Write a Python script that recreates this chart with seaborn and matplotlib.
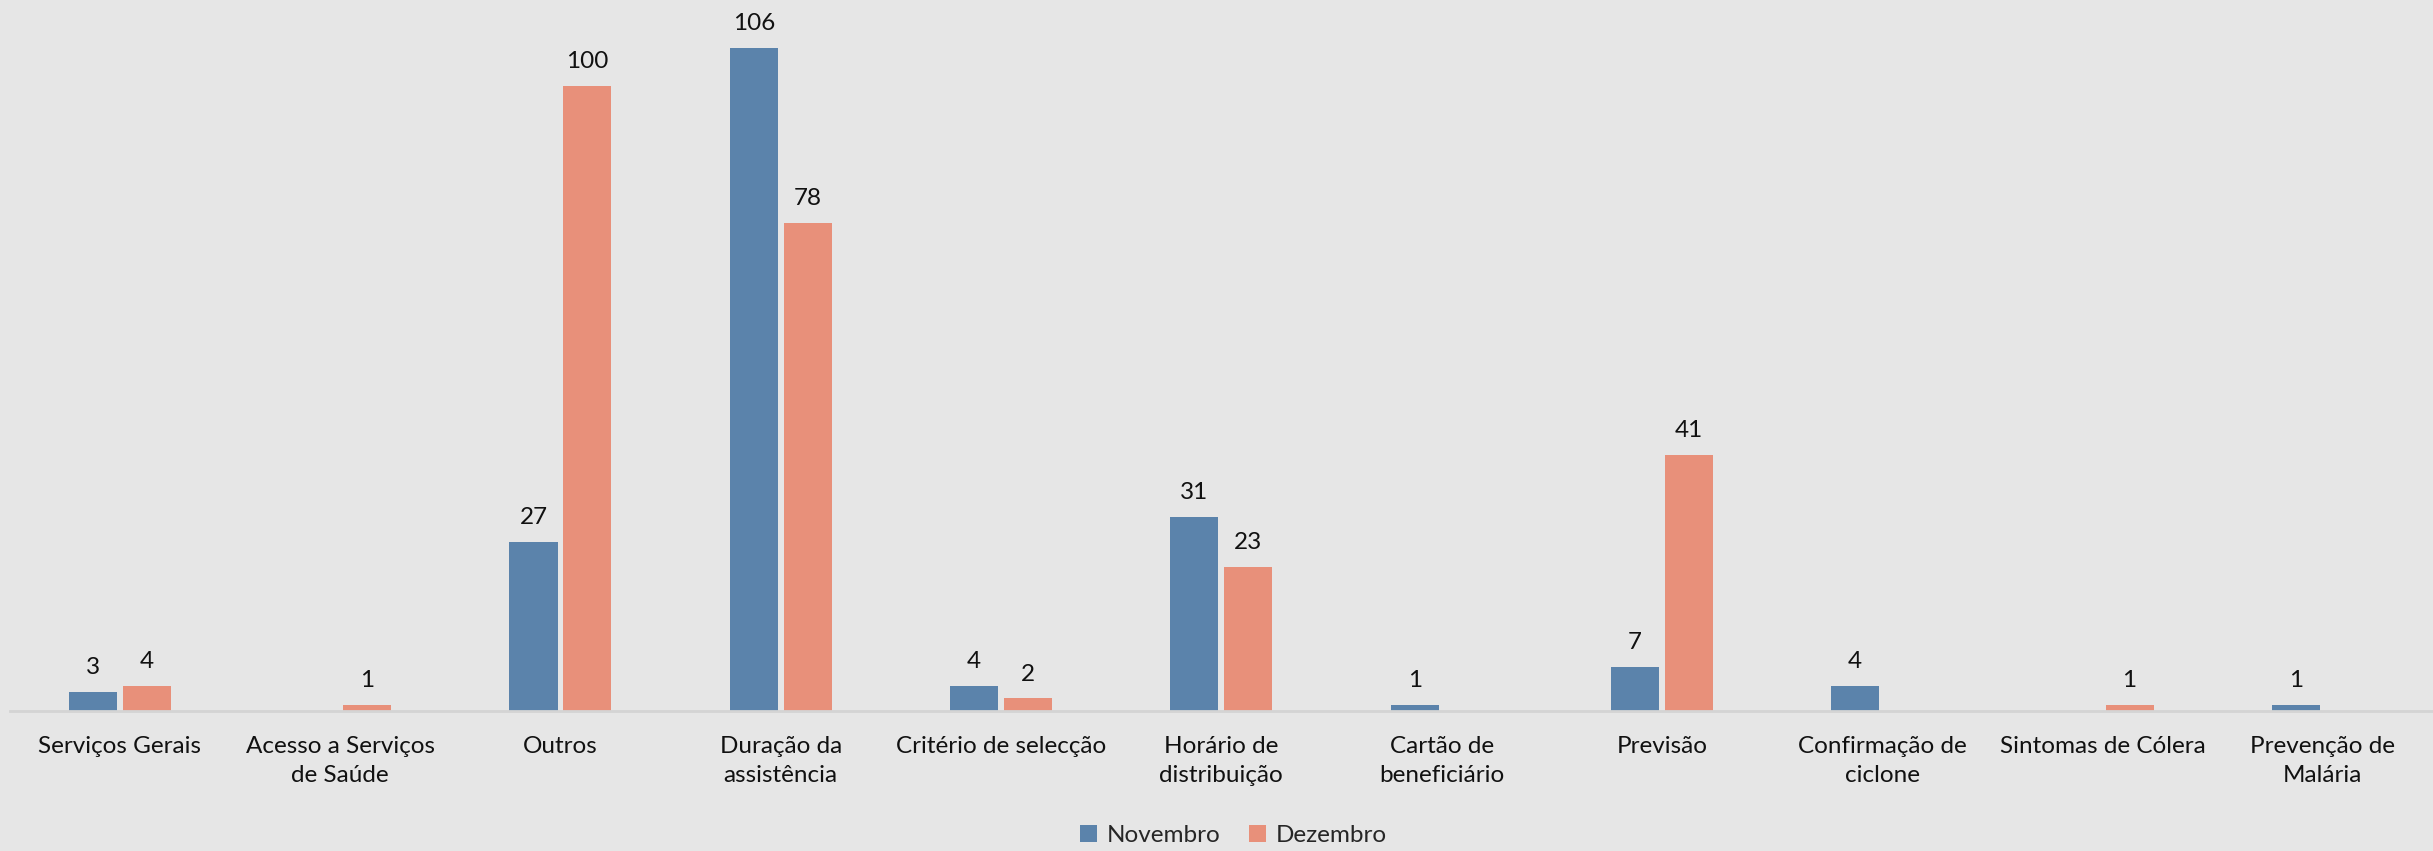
import numpy as np
import pandas as pd
import matplotlib
matplotlib.use("Agg")
import matplotlib.pyplot as plt
import seaborn as sns

categories = ["Serviços Gerais", "Acesso a Serviços\nde Saúde", "Outros", "Duração da\nassistência",
              "Critério de selecção", "Horário de\ndistribuição", "Cartão de\nbeneficiário", "Previsão",
              "Confirmação de\nciclone", "Sintomas de Cólera", "Prevenção de\nMalária"]
novembro = [3, None, 27, 106, 4, 31, 1, 7, 4, None, 1]
dezembro = [4, 1, 100, 78, 2, 23, None, 41, None, 1, None]
series = ["Novembro", "Dezembro"]
colors = ["#5B83AB", "#E8907A"]

rows = []
for c, n, d in zip(categories, novembro, dezembro):
    if n is not None:
        rows.append((c, "Novembro", n))
    if d is not None:
        rows.append((c, "Dezembro", d))
df = pd.DataFrame(rows, columns=["cat", "mes", "val"])

sns.set_theme(style="white")
plt.rcParams["font.family"] = ["Lato", "DejaVu Sans"]

bg = "#E6E6E6"
fig = plt.figure(figsize=(24.33, 8.51), dpi=100, facecolor=bg)
ax = fig.add_axes([0.004, 1 - 711 / 851, 0.996, 711 / 851])
ax.set_facecolor(bg)

sns.barplot(data=df, x="cat", y="val", hue="mes", order=categories, hue_order=series,
            palette=colors, width=0.49, gap=0.11, ax=ax, saturation=1, legend=True,
            linewidth=0)

for cont in ax.containers:
    ax.bar_label(cont, fmt="%d", padding=10, fontsize=17.5, color="#111111")

ax.set_xlim(-0.5, len(categories) - 0.5)
ax.set_ylim(0, 113.7)
ax.set_xlabel("")
ax.set_ylabel("")
ax.set_yticks([])
for s in ["top", "right", "left"]:
    ax.spines[s].set_visible(False)
ax.spines["bottom"].set_color("#D4D4D4")
ax.spines["bottom"].set_linewidth(2)
ax.tick_params(axis="x", length=0, pad=18, labelsize=17.5, labelcolor="#111111")
for t in ax.get_xticklabels():
    t.set_linespacing(1.45)

leg = ax.get_legend()
handles, labels = ax.get_legend_handles_labels()
leg.remove()
fig.legend(handles, labels, loc="lower center", bbox_to_anchor=(0.507, -0.02), ncol=2,
           frameon=False, fontsize=17.5, handlelength=0.7, handleheight=0.7,
           handletextpad=0.4, columnspacing=1.2)

fig.savefig("out.png", dpi=100, facecolor=bg)
